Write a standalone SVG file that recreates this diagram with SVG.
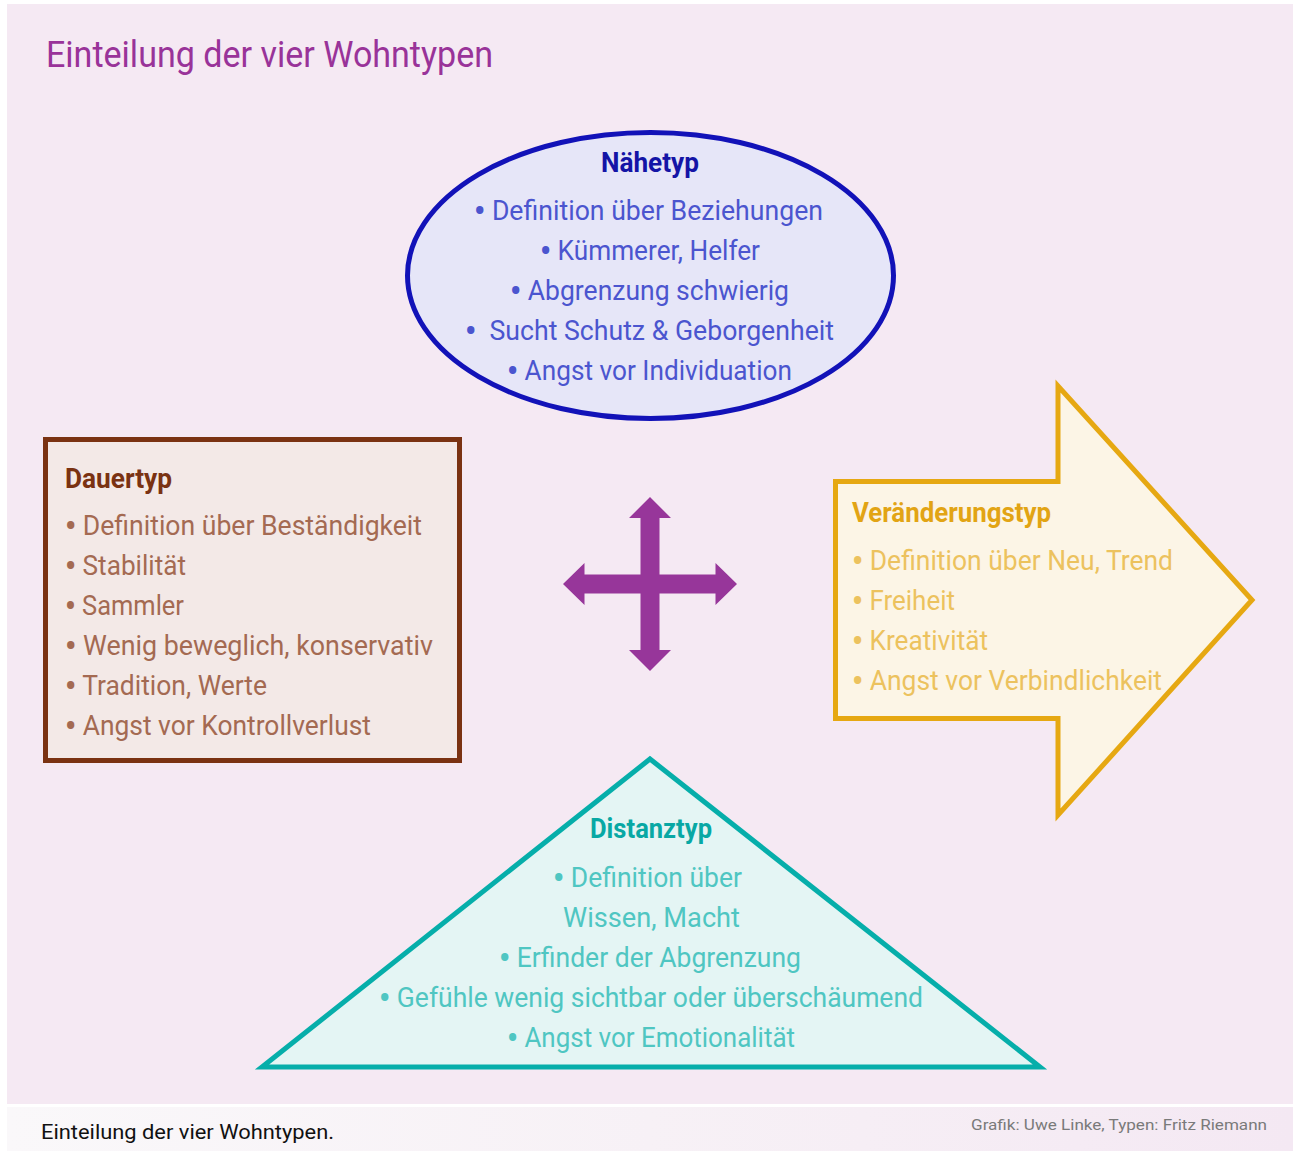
<svg xmlns="http://www.w3.org/2000/svg" width="1293" height="1151" viewBox="0 0 1293 1151">
  <defs>
    <linearGradient id="footerFill" x1="0" y1="0" x2="1" y2="0">
      <stop offset="0" stop-color="#faf8fa"/>
      <stop offset="0.5" stop-color="#f7f1f6"/>
      <stop offset="1" stop-color="#f4e8f3"/>
    </linearGradient>
    <style>
      text { font-family: Roboto, "Liberation Sans", Arial, sans-serif; }
      .head { font-size: 27px; font-weight: bold; }
      .item { font-size: 28px; }
      .b { font-size: 33px; font-weight: bold; }
      .title { font-size: 37px; fill: #993399; }
      .naehe .head { fill: #1414a6; }
      .naehe .item { fill: #4b55cf; }
      .dauer .head { fill: #7a3212; }
      .dauer .item { fill: #a46a52; }
      .wandel .head { fill: #e2a414; }
      .wandel .item { fill: #ecc25e; }
      .distanz .head { fill: #08a8a4; }
      .distanz .item { fill: #4fc6c2; }
      .caption { font-size: 20px; fill: #111111; }
      .credit { font-size: 15px; fill: #7a7a7a; }
    </style>
  </defs>

  <!-- page -->
  <rect x="0" y="0" width="1293" height="1151" fill="#ffffff"/>
  <rect x="7" y="4" width="1286" height="1100" fill="#f5e9f3"/>
  <rect x="7" y="1107" width="1286" height="44" fill="url(#footerFill)"/>

  <text class="title" x="46" y="67" textLength="447" lengthAdjust="spacingAndGlyphs">Einteilung der vier Wohntypen</text>

  <!-- Nähetyp -->
  <g id="naehetyp" class="naehe">
    <ellipse cx="650.5" cy="275.5" rx="243" ry="143" fill="#e6e6f8" stroke="#1212b8" stroke-width="5"/>
    <text class="head" x="601" y="172" textLength="98" lengthAdjust="spacingAndGlyphs">Nähetyp</text>
    <text class="item" x="474" y="220" textLength="349" lengthAdjust="spacingAndGlyphs"><tspan class="b" dy="2">•</tspan><tspan dy="-2"> Definition über Beziehungen</tspan></text>
    <text class="item" x="540" y="260" textLength="220" lengthAdjust="spacingAndGlyphs"><tspan class="b" dy="2">•</tspan><tspan dy="-2"> Kümmerer, Helfer</tspan></text>
    <text class="item" x="510" y="300" textLength="279" lengthAdjust="spacingAndGlyphs"><tspan class="b" dy="2">•</tspan><tspan dy="-2"> Abgrenzung schwierig</tspan></text>
    <text class="item" x="465" y="340" textLength="369" lengthAdjust="spacingAndGlyphs" xml:space="preserve"><tspan class="b" dy="2">•</tspan><tspan dy="-2">  Sucht Schutz &amp; Geborgenheit</tspan></text>
    <text class="item" x="507" y="380" textLength="285" lengthAdjust="spacingAndGlyphs"><tspan class="b" dy="2">•</tspan><tspan dy="-2"> Angst vor Individuation</tspan></text>
  </g>

  <!-- Dauertyp -->
  <g id="dauertyp" class="dauer">
    <rect x="45.5" y="439.5" width="414" height="321" fill="#f3e9e7" stroke="#7a3212" stroke-width="5"/>
    <text class="head" x="65" y="488" textLength="107" lengthAdjust="spacingAndGlyphs">Dauertyp</text>
    <text class="item" x="65" y="535" textLength="357" lengthAdjust="spacingAndGlyphs"><tspan class="b" dy="2">•</tspan><tspan dy="-2"> Definition über Beständigkeit</tspan></text>
    <text class="item" x="65" y="575" textLength="121" lengthAdjust="spacingAndGlyphs"><tspan class="b" dy="2">•</tspan><tspan dy="-2"> Stabilität</tspan></text>
    <text class="item" x="65" y="615" textLength="119" lengthAdjust="spacingAndGlyphs"><tspan class="b" dy="2">•</tspan><tspan dy="-2"> Sammler</tspan></text>
    <text class="item" x="65" y="655" textLength="368" lengthAdjust="spacingAndGlyphs"><tspan class="b" dy="2">•</tspan><tspan dy="-2"> Wenig beweglich, konservativ</tspan></text>
    <text class="item" x="65" y="695" textLength="202" lengthAdjust="spacingAndGlyphs"><tspan class="b" dy="2">•</tspan><tspan dy="-2"> Tradition, Werte</tspan></text>
    <text class="item" x="65" y="735" textLength="306" lengthAdjust="spacingAndGlyphs"><tspan class="b" dy="2">•</tspan><tspan dy="-2"> Angst vor Kontrollverlust</tspan></text>
  </g>

  <!-- Veränderungstyp -->
  <g id="veraenderungstyp" class="wandel">
    <polygon points="835.5,481.5 1058,481.5 1058,386 1252,600 1058,815 1058,718.5 835.5,718.5" fill="#fcf5e6" stroke="#e6a812" stroke-width="5"/>
    <text class="head" x="852" y="522" textLength="199" lengthAdjust="spacingAndGlyphs">Veränderungstyp</text>
    <text class="item" x="852" y="570" textLength="321" lengthAdjust="spacingAndGlyphs"><tspan class="b" dy="2">•</tspan><tspan dy="-2"> Definition über Neu, Trend</tspan></text>
    <text class="item" x="852" y="610" textLength="103" lengthAdjust="spacingAndGlyphs"><tspan class="b" dy="2">•</tspan><tspan dy="-2"> Freiheit</tspan></text>
    <text class="item" x="852" y="650" textLength="136" lengthAdjust="spacingAndGlyphs"><tspan class="b" dy="2">•</tspan><tspan dy="-2"> Kreativität</tspan></text>
    <text class="item" x="852" y="690" textLength="310" lengthAdjust="spacingAndGlyphs"><tspan class="b" dy="2">•</tspan><tspan dy="-2"> Angst vor Verbindlichkeit</tspan></text>
  </g>

  <!-- Distanztyp -->
  <g id="distanztyp" class="distanz">
    <polygon points="650,759 1040,1067 262,1067" fill="#e4f5f4" stroke="#06aeaa" stroke-width="5"/>
    <text class="head" x="590" y="838" textLength="122" lengthAdjust="spacingAndGlyphs">Distanztyp</text>
    <text class="item" x="553" y="887" textLength="189" lengthAdjust="spacingAndGlyphs"><tspan class="b" dy="2">•</tspan><tspan dy="-2"> Definition über</tspan></text>
    <text class="item" x="563" y="927" textLength="177" lengthAdjust="spacingAndGlyphs">Wissen, Macht</text>
    <text class="item" x="499" y="967" textLength="302" lengthAdjust="spacingAndGlyphs"><tspan class="b" dy="2">•</tspan><tspan dy="-2"> Erfinder der Abgrenzung</tspan></text>
    <text class="item" x="379" y="1007" textLength="544" lengthAdjust="spacingAndGlyphs"><tspan class="b" dy="2">•</tspan><tspan dy="-2"> Gefühle wenig sichtbar oder überschäumend</tspan></text>
    <text class="item" x="507" y="1047" textLength="288" lengthAdjust="spacingAndGlyphs"><tspan class="b" dy="2">•</tspan><tspan dy="-2"> Angst vor Emotionalität</tspan></text>
  </g>

  <!-- four-way arrow between the types -->
  <g id="connectors">
    <polygon fill="#97369a" points="650,497 671,518 659.5,518 659.5,574.5 715.5,574.5 715.5,563 737,584 715.5,605 715.5,593.5 659.5,593.5 659.5,650 671,650 650,671 629,650 640.5,650 640.5,593.5 584.5,593.5 584.5,605 563,584 584.5,563 584.5,574.5 640.5,574.5 640.5,518 629,518"/>
  </g>

  <!-- footer -->
  <text class="caption" x="41" y="1139" textLength="293" lengthAdjust="spacingAndGlyphs">Einteilung der vier Wohntypen.</text>
  <text class="credit" x="971" y="1130" textLength="296" lengthAdjust="spacingAndGlyphs">Grafik: Uwe Linke, Typen: Fritz Riemann</text>
</svg>
